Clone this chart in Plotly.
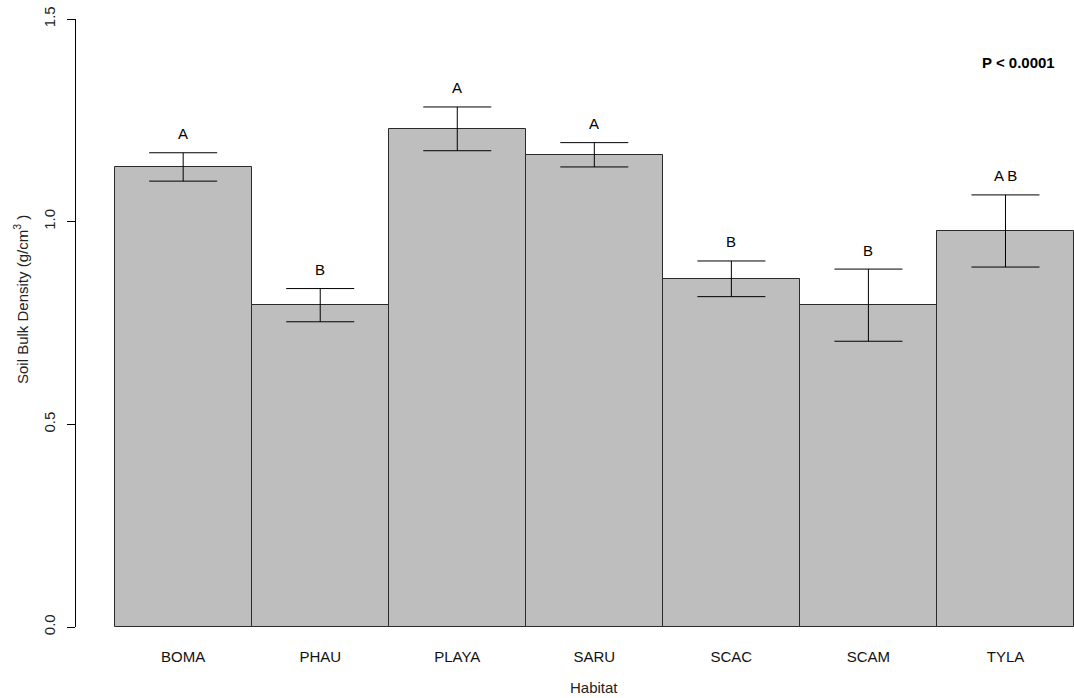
import plotly.graph_objects as go

# Soil bulk density by habitat (mean ± SE) with Tukey letters
habitats = ["BOMA", "PHAU", "PLAYA", "SARU", "SCAC", "SCAM", "TYLA"]
means = [1.135, 0.794, 1.229, 1.165, 0.859, 0.794, 0.977]
se = [0.035, 0.041, 0.054, 0.030, 0.044, 0.089, 0.089]
letters = ["A", "B", "A", "A", "B", "B", "A B"]
y_ticks = [0.0, 0.5, 1.0, 1.5]
y_tick_labels = ["0.0", "0.5", "1.0", "1.5"]

FONT = "Liberation Sans, Arial, sans-serif"

fig = go.Figure()
fig.add_trace(go.Bar(
    x=habitats,
    y=means,
    width=1,
    marker=dict(color="#BEBEBE", line=dict(color="#2a2a2a", width=1)),
    error_y=dict(type="data", array=se, visible=True,
                 color="black", thickness=1, width=34),
    showlegend=False,
    hoverinfo="skip",
))

# group letters above each error bar
for h, m, s, lab in zip(habitats, means, se, letters):
    fig.add_annotation(x=h, y=m + s, text=lab, showarrow=False,
                       yanchor="middle", yshift=19,
                       font=dict(family=FONT, size=15, color="black"))

fig.add_annotation(xref="paper", yref="paper", x=0.9446, y=0.928,
                   xanchor="center", yanchor="middle",
                   text="<b>P < 0.0001</b>", showarrow=False,
                   font=dict(family=FONT, size=15, color="black"))

# axis titles
fig.add_annotation(xref="paper", yref="paper", x=0.519, y=-0.100,
                   xanchor="center", yanchor="middle", text="Habitat",
                   showarrow=False,
                   font=dict(family=FONT, size=15, color="#222"))
fig.add_annotation(xref="paper", yref="paper", x=-0.055, y=0.538,
                   xanchor="center", yanchor="middle", textangle=-90,
                   text="Soil Bulk Density (g/cm<sup>3</sup> )",
                   showarrow=False,
                   font=dict(family=FONT, size=15, color="#222"))

fig.update_layout(
    width=1074, height=698,
    margin=dict(l=76, r=0, t=19, b=71),
    paper_bgcolor="white", plot_bgcolor="white",
    bargap=0,
    font=dict(family=FONT, size=15, color="black"),
    xaxis=dict(range=[-0.782, 6.5], showline=False, showgrid=False,
               zeroline=False, ticks="", ticklabelstandoff=19,
               tickfont=dict(size=15, color="#111")),
    yaxis=dict(range=[0, 1.5], tickvals=y_ticks, ticktext=y_tick_labels,
               showline=True, linecolor="black", linewidth=1,
               ticks="outside", ticklen=8, tickcolor="black", tickwidth=1,
               tickangle=-90, ticklabelstandoff=6, showgrid=False,
               zeroline=False,
               tickfont=dict(size=15, color="#222")),
)

fig.write_html("out.html")
